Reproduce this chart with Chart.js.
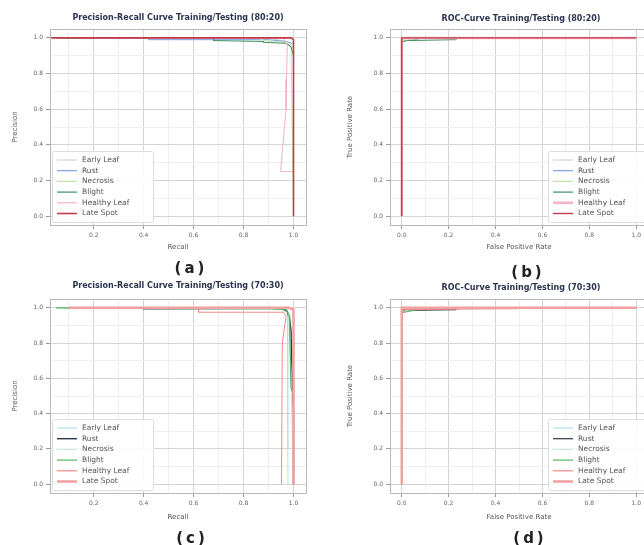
<!DOCTYPE html>
<html>
<head>
<meta charset="utf-8">
<script src="https://cdn.jsdelivr.net/npm/chart.js@4.4.1/dist/chart.umd.min.js"></script>
<style>
    html, body { margin: 0; padding: 0; background: #fff; overflow: hidden; }
    #page { position: relative; width: 644px; height: 545px; overflow: hidden; font-family: "DejaVu Sans", sans-serif; }
    .panel { position: absolute; }
    .ttl { position: absolute; font-weight: bold; font-size: 8px; color: #2b3550; white-space: nowrap; transform: translate(-50%, -50%); }
    .lbl { position: absolute; font-weight: bold; font-size: 15px; color: #222; letter-spacing: 3px; white-space: nowrap; transform: translate(-50%, -50%); }
</style>
</head>
<body>
<div id="page">
    <div class="panel" style="left:0;top:0;width:330px;height:260px"><canvas id="chart-a"></canvas></div>
    <div class="panel" style="left:320px;top:0;width:340px;height:260px"><canvas id="chart-b"></canvas></div>
    <div class="panel" style="left:0;top:270px;width:330px;height:260px"><canvas id="chart-c"></canvas></div>
    <div class="panel" style="left:320px;top:270px;width:340px;height:260px"><canvas id="chart-d"></canvas></div>

    <div class="ttl" style="left:178px;top:17px">Precision-Recall Curve Training/Testing (80:20)</div>
    <div class="ttl" style="left:521px;top:18px">ROC-Curve Training/Testing (80:20)</div>
    <div class="ttl" style="left:178px;top:285px">Precision-Recall Curve Training/Testing (70:30)</div>
    <div class="ttl" style="left:521px;top:287px">ROC-Curve Training/Testing (70:30)</div>

    <div class="lbl" style="left:191px;top:268px">(a)</div>
    <div class="lbl" style="left:528px;top:272px">(b)</div>
    <div class="lbl" style="left:192px;top:538px">(c)</div>
    <div class="lbl" style="left:530px;top:538px">(d)</div>
</div>

<script>
// Class names (legend order)
const classNames = ['Early Leaf', 'Rust', 'Necrosis', 'Blight', 'Healthy Leaf', 'Late Spot'];

// Tick labels
const prXTicks = [0.2, 0.4, 0.6, 0.8, 1.0];
const rocXTicks = [0.0, 0.2, 0.4, 0.6, 0.8, 1.0];
const yTicks = [0.0, 0.2, 0.4, 0.6, 0.8, 1.0];
const minorTicks = [0.1, 0.3, 0.5, 0.7, 0.9];

// (a) Precision-Recall 80:20  -- [recall, precision]
const prA_earlyLeaf = [[0.05, 1.0], [0.9, 1.0], [0.97, 0.98], [0.98, 0.96], [1.0, 0.95], [1.0, 0.0]];
const prA_rust = [[0.18, 1.0], [0.42, 1.0], [0.42, 0.99], [0.9, 0.99], [0.97, 0.98], [0.995, 0.97], [1.0, 0.96], [1.0, 0.0]];
const prA_necrosis = [[0.1, 1.0], [0.85, 1.0], [0.9, 0.98], [0.97, 0.975], [0.99, 0.96], [1.0, 0.0]];
const prA_blight = [[0.05, 1.0], [0.68, 1.0], [0.68, 0.985], [0.88, 0.98], [0.88, 0.975], [0.97, 0.97], [0.99, 0.95], [1.0, 0.9], [1.0, 0.0]];
const prA_healthyLeaf = [[0.14, 1.0], [0.96, 1.0], [0.975, 0.96], [0.972, 0.77], [0.97, 0.6], [0.948, 0.25], [1.0, 0.25], [1.0, 0.0]];
const prA_lateSpot = [[0.03, 1.0], [0.99, 1.0], [1.0, 0.99], [1.0, 0.0]];

// (b) ROC 80:20  -- [fpr, tpr]
const rocB_earlyLeaf = [[0, 0], [0, 0.98], [0.02, 1.0], [1.0, 1.0]];
const rocB_rust = [[0, 0], [0, 0.97], [0.01, 0.985], [0.05, 0.99], [0.1, 1.0], [1.0, 1.0]];
const rocB_necrosis = [[0, 0], [0, 0.98], [0.03, 0.99], [0.08, 1.0], [1.0, 1.0]];
const rocB_blight = [[0, 0], [0, 0.975], [0.02, 0.985], [0.23, 0.99], [0.24, 1.0], [1.0, 1.0]];
const rocB_healthyLeaf = [[0, 0], [0, 0.99], [0.005, 1.0], [1.0, 1.0]];
const rocB_lateSpot = [[0, 0], [0, 1.0], [1.0, 1.0]];

// (c) Precision-Recall 70:30
const prC_earlyLeaf = [[0.05, 1.0], [0.96, 0.995], [0.975, 0.97], [0.977, 0.2], [0.978, 0.0]];
const prC_rust = [[0.18, 1.0], [0.4, 1.0], [0.4, 0.995], [0.95, 0.995], [0.975, 0.98], [0.985, 0.93], [0.99, 0.87], [0.995, 0.6], [1.0, 0.4], [1.0, 0.0]];
const prC_necrosis = [[0.08, 1.0], [0.95, 0.99], [0.98, 0.97], [0.985, 0.8], [0.99, 0.6], [1.0, 0.0]];
const prC_blight = [[0.05, 1.0], [0.9, 0.995], [0.97, 0.99], [0.985, 0.95], [0.985, 0.87], [0.99, 0.55], [1.0, 0.5], [1.0, 0.0]];
const prC_healthyLeaf = [[0.1, 1.0], [0.62, 1.0], [0.62, 0.975], [0.96, 0.975], [0.97, 0.95], [0.955, 0.8], [0.952, 0.0]];
const prC_lateSpot = [[0.1, 1.0], [0.98, 1.0], [1.0, 0.99], [1.0, 0.0]];

// (d) ROC 70:30
const rocD_earlyLeaf = [[0, 0], [0, 0.97], [0.01, 0.99], [0.03, 1.0], [1.0, 1.0]];
const rocD_rust = [[0, 0], [0, 0.975], [0.01, 0.985], [0.23, 0.99], [0.24, 1.0], [1.0, 1.0]];
const rocD_necrosis = [[0, 0], [0, 0.98], [0.05, 0.99], [0.1, 1.0], [1.0, 1.0]];
const rocD_blight = [[0, 0], [0, 0.97], [0.01, 0.975], [0.05, 0.985], [0.1, 1.0], [1.0, 1.0]];
const rocD_healthyLeaf = [[0, 0], [0, 0.99], [0.49, 0.995], [0.5, 1.0], [1.0, 1.0]];
const rocD_lateSpot = [[0, 0], [0, 1.0], [1.0, 1.0]];

// Line colours and widths per panel
const colorsTop = ['#c9d6df', '#7f9fe0', '#bfe8a8', '#3f8f5f', '#f4b3c2', '#c23a48'];
const widthsA = [1, 1, 1, 1, 1, 1.6];
const widthsB = [1, 1, 1, 1, 2.5, 1.4];
const colorsBottom = ['#b3e3e6', '#2d3b48', '#c6ead4', '#55b565', '#f08a84', '#f2a0a0'];
const widthsC = [1, 1.4, 1, 1.2, 1, 2.5];
const widthsD = [1, 1.2, 1, 1.2, 1, 2.5];

const isMajor = v => Math.abs(v * 5 - Math.round(v * 5)) < 1e-6;

// Draws the border around the plot area
const frame = {
    id: 'frame',
    afterDatasetsDraw(chart) {
        const a = chart.chartArea;
        const ctx = chart.ctx;
        ctx.save();
        ctx.strokeStyle = '#b8b8b8';
        ctx.lineWidth = 1;
        ctx.strokeRect(Math.round(a.left) + 0.5, Math.round(a.top) + 0.5, Math.round(a.right - a.left), Math.round(a.bottom - a.top));
        ctx.restore();
    }
};

// Matplotlib-like legend inside the plot area
const boxLegend = {
    id: 'boxLegend',
    afterDraw(chart, args, opts) {
        const a = chart.chartArea;
        const ctx = chart.ctx;
        const w = 101, h = 71, rowH = 10.7;
        const left = opts.side === 'right' ? a.right - 100 : a.left + 2;
        const top = a.bottom - 3 - h;
        ctx.save();
        ctx.fillStyle = 'rgba(255,255,255,0.85)';
        ctx.strokeStyle = '#dddddd';
        ctx.lineWidth = 1;
        ctx.beginPath();
        ctx.roundRect(left + 0.5, top + 0.5, w, h, 2);
        ctx.fill();
        ctx.stroke();
        ctx.font = '7.5px "DejaVu Sans"';
        ctx.textBaseline = 'middle';
        chart.data.datasets.forEach((ds, i) => {
            const y = top + 9 + i * rowH;
            ctx.strokeStyle = ds.borderColor;
            ctx.lineWidth = Math.max(1.2, ds.borderWidth);
            ctx.beginPath();
            ctx.moveTo(left + 5, y);
            ctx.lineTo(left + 25, y);
            ctx.stroke();
            ctx.fillStyle = '#555';
            ctx.fillText(ds.label, left + 30, y);
        });
        ctx.restore();
    }
};

function axis(min, max, major, width, height, title, titlePad) {
    const all = major.concat(minorTicks.filter(v => v > min && v < max)).sort((p, q) => p - q);
    return {
        type: 'linear',
        min: min,
        max: max,
        afterBuildTicks: scale => { scale.ticks = all.map(v => ({ value: v })); },
        afterFit: scale => {
            if (width !== null) scale.width = width;
            if (height !== null) scale.height = height;
        },
        ticks: {
            autoSkip: false,
            maxRotation: 0,
            padding: 3,
            color: '#666',
            font: { size: 6, family: 'DejaVu Sans' },
            callback: v => isMajor(v) ? v.toFixed(1) : ''
        },
        grid: {
            tickLength: 4,
            color: c => (c.tick && isMajor(c.tick.value)) ? '#d4d4d4' : '#efefef',
            tickColor: c => (c.tick && isMajor(c.tick.value)) ? '#999' : 'rgba(0,0,0,0)',
            lineWidth: 1
        },
        border: { display: false },
        title: {
            display: true,
            text: title,
            color: '#555',
            font: { size: 7, family: 'DejaVu Sans' },
            padding: titlePad
        }
    };
}

function makeChart(id, series, colors, widths, opts) {
    const ctx = document.getElementById(id);
    return new Chart(ctx, {
        type: 'line',
        data: {
            datasets: series.map((pts, i) => ({
                label: classNames[i],
                data: pts.map(p => ({ x: p[0], y: p[1] })),
                borderColor: colors[i],
                borderWidth: widths[i],
                pointRadius: 0,
                tension: 0,
                fill: false,
                order: -i
            }))
        },
        options: {
            responsive: false,
            animation: false,
            events: [],
            layout: { padding: { left: 0, top: 29, right: opts.right, bottom: 0 } },
            plugins: {
                legend: { display: false },
                tooltip: { enabled: false },
                boxLegend: { side: opts.side }
            },
            scales: {
                x: axis(opts.xMin, opts.xMax, opts.xTicks, null, opts.xH, opts.xTitle, { top: 0, bottom: 8.8 }),
                y: axis(-0.05, 1.05, yTicks, opts.yW, null, opts.yTitle, { top: opts.yPad, bottom: 0 })
            }
        },
        plugins: [frame, boxLegend]
    });
}

function sizeCanvas(id, w, h) {
    const c = document.getElementById(id);
    c.width = w; c.height = h;
    c.style.width = w + 'px'; c.style.height = h + 'px';
}

sizeCanvas('chart-a', 330, 260);
sizeCanvas('chart-b', 340, 260);
sizeCanvas('chart-c', 330, 260);
sizeCanvas('chart-d', 340, 260);

makeChart('chart-a',
    [prA_earlyLeaf, prA_rust, prA_necrosis, prA_blight, prA_healthyLeaf, prA_lateSpot],
    colorsTop, widthsA,
    { right: 24, side: 'left', xMin: 0.025, xMax: 1.05, xTicks: prXTicks, xH: 35, xTitle: 'Recall', yW: 50, yPad: 10.8, yTitle: 'Precision' });

makeChart('chart-b',
    [rocB_earlyLeaf, rocB_rust, rocB_necrosis, rocB_blight, rocB_healthyLeaf, rocB_lateSpot],
    colorsTop, widthsB,
    { right: 12, side: 'right', xMin: -0.05, xMax: 1.05, xTicks: rocXTicks, xH: 35, xTitle: 'False Positive Rate', yW: 70, yPad: 25.8, yTitle: 'True Positive Rate' });

makeChart('chart-c',
    [prC_earlyLeaf, prC_rust, prC_necrosis, prC_blight, prC_healthyLeaf, prC_lateSpot],
    colorsBottom, widthsC,
    { right: 24, side: 'left', xMin: 0.025, xMax: 1.05, xTicks: prXTicks, xH: 37, xTitle: 'Recall', yW: 50, yPad: 10.8, yTitle: 'Precision' });

makeChart('chart-d',
    [rocD_earlyLeaf, rocD_rust, rocD_necrosis, rocD_blight, rocD_healthyLeaf, rocD_lateSpot],
    colorsBottom, widthsD,
    { right: 12, side: 'right', xMin: -0.05, xMax: 1.05, xTicks: rocXTicks, xH: 37, xTitle: 'False Positive Rate', yW: 70, yPad: 25.8, yTitle: 'True Positive Rate' });
</script>
</body>
</html>
